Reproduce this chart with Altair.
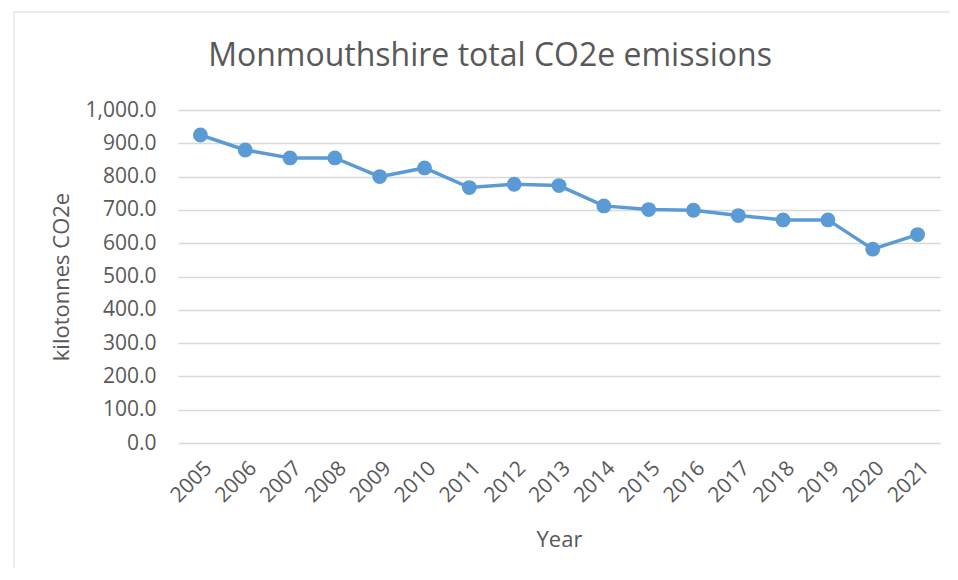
import altair as alt
import pandas as pd

years = [str(y) for y in range(2005, 2022)]
emissions = [925, 880, 856, 856, 800, 826, 767, 777, 773, 712, 701, 699, 683, 670, 670, 582, 626]
title_text = "Monmouthshire total CO2e emissions"

df = pd.DataFrame({"Year": years, "Emissions": emissions})

FONT = "Open Sans"
GREY = "#595959"
BLUE = "#5b9bd5"

x = alt.X(
    "Year:O",
    title="Year",
    scale=alt.Scale(type="point", padding=0.5),
    axis=alt.Axis(
        labelAngle=-45,
        labelFontSize=21,
        labelColor=GREY,
        labelFont=FONT,
        titleFont=FONT,
        titleFontSize=22,
        titleFontWeight="normal",
        titleColor=GREY,
        titlePadding=24,
        ticks=False,
        domain=False,
        labelPadding=14,
        grid=False,
    ),
)
y = alt.Y(
    "Emissions:Q",
    title="kilotonnes CO2e",
    scale=alt.Scale(domain=[0, 1000]),
    axis=alt.Axis(
        values=list(range(0, 1001, 100)),
        format=",.1f",
        labelFontSize=21,
        labelColor=GREY,
        labelFont=FONT,
        titleFont=FONT,
        titleFontSize=22,
        titleFontWeight="normal",
        titleColor=GREY,
        titlePadding=12,
        ticks=False,
        domain=False,
        labelPadding=22,
        gridColor="#d9d9d9",
        gridWidth=1.5,
    ),
)

base_one = alt.Chart(pd.DataFrame({"t": [title_text]}))

border = base_one.mark_rect(
    fillOpacity=0, stroke="#d9d9d9", strokeWidth=1
).encode(
    x=alt.value(-164), x2=alt.value(800), y=alt.value(-98), y2=alt.value(480)
)

title = base_one.mark_text(
    font=FONT, fontSize=32, color=GREY, align="center", baseline="middle"
).encode(text="t:N", x=alt.value(312), y=alt.value(-54))

line = alt.Chart(df).mark_line(color=BLUE, strokeWidth=3.5).encode(x=x, y=y)
points = alt.Chart(df).mark_point(
    filled=True, color=BLUE, size=220, opacity=1
).encode(x=x, y=y)

chart = (
    alt.layer(border, title, line, points)
    .properties(
        width=762,
        height=333,
        background="white",
        autosize=alt.AutoSizeParams(type="none"),
        padding={"left": 170, "top": 102, "right": 10, "bottom": 125},
    )
    .configure_view(strokeWidth=0, stroke=None)
)

chart.save("out.html", embed_options={"renderer": "svg", "actions": False})
